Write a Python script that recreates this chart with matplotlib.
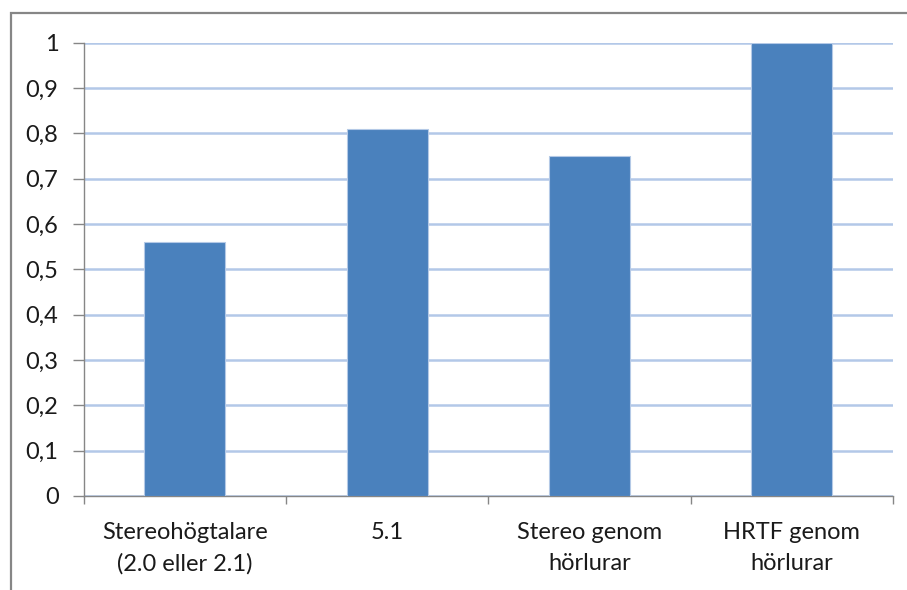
import matplotlib.pyplot as plt
from matplotlib.patches import Rectangle

categories = ['Stereohögtalare\n(2.0 eller 2.1)', '5.1', 'Stereo genom\nhörlurar', 'HRTF genom\nhörlurar']
values = [0.56, 0.81, 0.75, 1.0]
yticks = [0, 0.1, 0.2, 0.3, 0.4, 0.5, 0.6, 0.7, 0.8, 0.9, 1.0]
ytick_labels = ['0', '0,1', '0,2', '0,3', '0,4', '0,5', '0,6', '0,7', '0,8', '0,9', '1']

plt.rcParams['font.family'] = ['Lato', 'DejaVu Sans']

W, H = 907, 590
fig = plt.figure(figsize=(W / 100, H / 100), dpi=100)
fig.patch.set_facecolor('white')

# chart frame (cut off on the right and bottom)
fig.patches.append(Rectangle((11 / W, -0.05), 1.1, 1 - 13 / H + 0.05,
                             transform=fig.transFigure, fill=False,
                             edgecolor='#868686', linewidth=1.6))

ax = fig.add_axes([83.5 / W, 1 - 496 / H, (893 - 83.5) / W, (496 - 42.7) / H])
x = range(len(categories))
ax.bar(x, values, width=0.4, color='#4a81bd', edgecolor='#b4c9e6', linewidth=0.8, zorder=3)

ax.set_xlim(-0.5, len(categories) - 0.5)
ax.set_ylim(0, 1)
ax.set_yticks(yticks)
ax.set_yticklabels(ytick_labels, fontsize=17, color='#1a1a1a')
ax.yaxis.grid(True, color='#b3c8e8', linewidth=1.8, zorder=0)
ax.set_axisbelow(True)

ax.set_xticks(x)
ax.set_xticklabels(categories, fontsize=17, color='#1a1a1a', linespacing=1.55)
ax.tick_params(axis='x', length=0, pad=19)
ax.tick_params(axis='y', length=8, color='#868686', width=1, pad=10)
# category boundary ticks on the x axis
ax.set_xticks([i - 0.5 for i in range(len(categories) + 1)], minor=True)
ax.tick_params(axis='x', which='minor', length=6, color='#868686', width=1)

for side in ['top', 'right']:
    ax.spines[side].set_visible(False)
for side in ['left', 'bottom']:
    ax.spines[side].set_color('#868686')
    ax.spines[side].set_linewidth(1)

fig.savefig('out.png', dpi=100)
